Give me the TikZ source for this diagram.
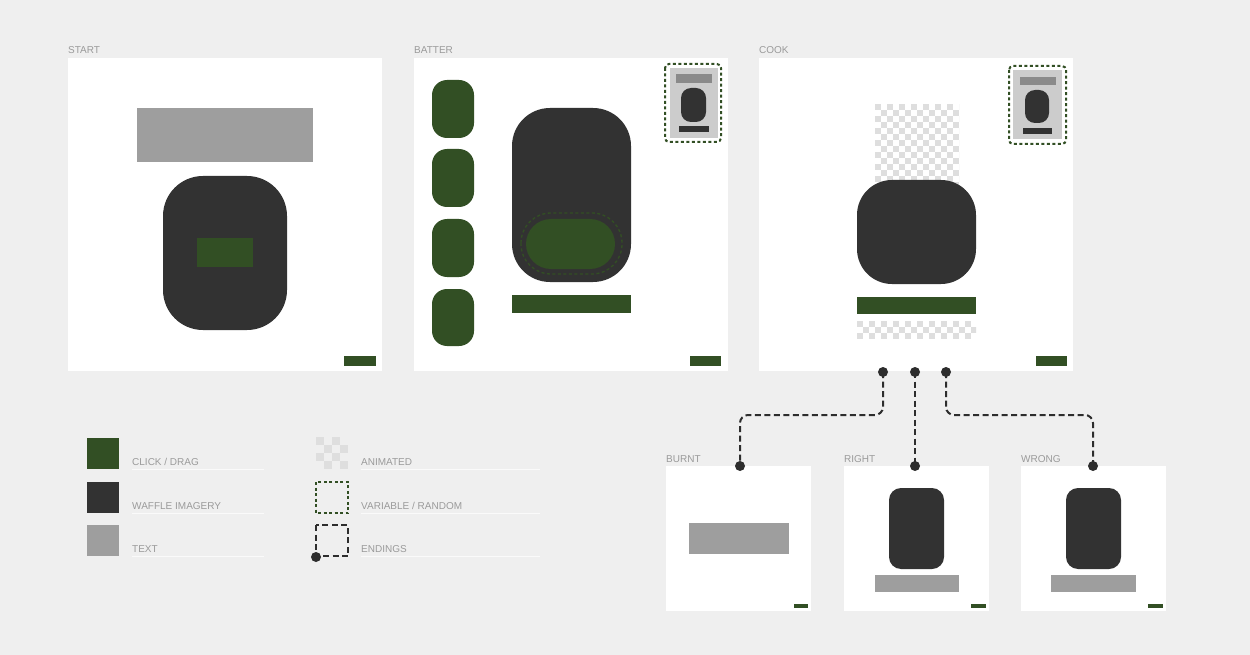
\documentclass[tikz,border=0pt]{standalone}
\usepackage{fontspec}
\setmainfont{Liberation Sans}
\definecolor{bg}{HTML}{EFEFEF}
\definecolor{grn}{HTML}{324F24}
\definecolor{drk}{HTML}{323232}
\definecolor{txtbox}{HTML}{9E9E9E}
\definecolor{lbl}{HTML}{9A9A9A}
\definecolor{chk}{HTML}{DEDEDE}
\definecolor{minibg}{HTML}{CCCCCC}
\definecolor{minibar}{HTML}{8A8A8A}
\definecolor{uline}{HTML}{FAFAFA}
\definecolor{conn}{HTML}{2D2D2D}
\newcommand\mychecker[4]{%
  \begin{scope}
    \clip (#1,#2) rectangle (#3,#4);
    \foreach \i in {0,...,20}{\foreach \j in {0,...,14}{%
      \pgfmathtruncatemacro\pp{mod(\i+\j,2)}%
      \ifnum\pp=0 \fill[chk] ({#1+6*\i},{#2+6*\j}) rectangle ++(6,6);\fi}}
  \end{scope}}
\begin{document}
\begin{tikzpicture}[x=1pt,y=-1pt,
  lbltxt/.style={text=lbl,font=\fontsize{10}{12}\selectfont,anchor=base west,inner sep=0},
  panel/.style={fill=white},
  vardash/.style={draw=grn,line width=2pt,dash pattern=on 3pt off 2.5pt,rounded corners=4},
  enddash/.style={draw=conn,line width=2pt,dash pattern=on 6pt off 3.5pt},
  connector/.style={draw=conn,line width=2pt,dash pattern=on 6pt off 3.5pt,rounded corners=8},
  uln/.style={draw=uline,line width=1pt}]
\useasboundingbox (0,0) rectangle (1250,655);
\fill[bg] (0,0) rectangle (1250,655);

% ---------- START ----------
\node[lbltxt] (lstart) at (68,54) {START};
\fill[panel] (68,58) rectangle (382,371);
\fill[txtbox] (137,108) rectangle (313,162);
\fill[drk,rounded corners=40] (163,176) rectangle (287,330);
\fill[grn] (197,238) rectangle (253,267);
\fill[grn] (344,356) rectangle (376,366);

% ---------- BATTER ----------
\node[lbltxt] (lbatter) at (414,54) {BATTER};
\fill[panel] (414,58) rectangle (728,371);
\foreach \ya/\yb in {80/138,149/207,219/277,289/346}
  \fill[grn,rounded corners=15] (432,\ya) rectangle (474,\yb);
\fill[drk,rounded corners=38] (512,108) rectangle (631,282);
\draw[draw=grn,line width=1.3pt,dash pattern=on 3pt off 2.5pt,rounded corners=30] (521,213) rectangle (622,274);
\fill[grn,rounded corners=25] (526,219) rectangle (615,269);
\fill[grn] (512,295) rectangle (631,313);
% mini card
\fill[minibg] (670,68) rectangle (718,138);
\fill[minibar] (676,74) rectangle (712,83);
\fill[drk,rounded corners=10] (681,88) rectangle (706,122);
\fill[drk] (679,126) rectangle (709,132);
\draw[vardash] (665,64) rectangle (721,142);
\fill[grn] (690,356) rectangle (721,366);

% ---------- COOK ----------
\node[lbltxt] (lcook) at (759,54) {COOK};
\fill[panel] (759,58) rectangle (1073,371);
\mychecker{875}{104}{959}{190}
\fill[drk,rounded corners=35] (857,180) rectangle (976,284);
\fill[grn] (857,297) rectangle (976,314);
\mychecker{857}{321}{976}{338}
\fill[minibg] (1013,70) rectangle (1062,139);
\fill[minibar] (1020,77) rectangle (1056,85);
\fill[drk,rounded corners=10] (1025,90) rectangle (1049,123);
\fill[drk] (1023,128) rectangle (1052,134);
\draw[vardash] (1009,66) rectangle (1066,144);
\fill[grn] (1036,356) rectangle (1067,366);

% ---------- ENDINGS ----------
\node[lbltxt] (lburnt) at (666,462) {BURNT};
\fill[panel] (666,466) rectangle (811,611);
\fill[txtbox] (689,523) rectangle (789,554);
\fill[grn] (794,604) rectangle (808,608);

\node[lbltxt] (lright) at (844,462) {RIGHT};
\fill[panel] (844,466) rectangle (989,611);
\fill[drk,rounded corners=12] (889,488) rectangle (944,569);
\fill[txtbox] (875,575) rectangle (959,592);
\fill[grn] (971,604) rectangle (986,608);

\node[lbltxt] (lwrong) at (1021,462) {WRONG};
\fill[panel] (1021,466) rectangle (1166,611);
\fill[drk,rounded corners=12] (1066,488) rectangle (1121,569);
\fill[txtbox] (1051,575) rectangle (1136,592);
\fill[grn] (1148,604) rectangle (1163,608);

% ---------- connectors ----------
\coordinate (c1) at (883,372);
\coordinate (c2) at (915,372);
\coordinate (c3) at (946,372);
\coordinate (e1) at (740,466);
\coordinate (e2) at (915,466);
\coordinate (e3) at (1093,466);
\draw[connector] (c1) -- ++(0,43) -| (e1);
\draw[connector] (c2) -- (e2);
\draw[connector] (c3) -- ++(0,43) -| (e3);
\foreach \p in {c1,c2,c3,e1,e2,e3} \fill[conn] (\p) circle (5);

% ---------- legend ----------
\fill[grn] (87,438) rectangle (119,469);
\fill[drk] (87,482) rectangle (119,513);
\fill[txtbox] (87,525) rectangle (119,556);
\node[lbltxt] (lg1) at (132,465.5) {CLICK / DRAG};
\node[lbltxt] (lg2) at (132,509) {WAFFLE IMAGERY};
\node[lbltxt] (lg3) at (132,552.5) {TEXT};
\draw[uln] (132,469) -- (264,469);
\draw[uln] (132,513) -- (264,513);
\draw[uln] (132,556.5) -- (264,556.5);

\begin{scope}
  \clip (316,437) rectangle (348,469);
  \foreach \i in {0,...,3}{\foreach \j in {0,...,3}{%
    \pgfmathtruncatemacro\pp{mod(\i+\j,2)}%
    \ifnum\pp=0 \fill[chk] ({316+8*\i},{437+8*\j}) rectangle ++(8,8);\fi}}
\end{scope}
\draw[draw=grn,line width=2pt,dash pattern=on 3pt off 2.5pt] (316,482) rectangle (348,513);
\draw[enddash] (316,525) rectangle (348,556);
\fill[conn] (316,557) circle (5);
\node[lbltxt] (lg4) at (361,465.5) {ANIMATED};
\node[lbltxt] (lg5) at (361,509) {VARIABLE / RANDOM};
\node[lbltxt] (lg6) at (361,552.5) {ENDINGS};
\draw[uln] (361,469) -- (540,469);
\draw[uln] (361,513) -- (540,513);
\draw[uln] (361,556.5) -- (540,556.5);
\end{tikzpicture}
\end{document}
